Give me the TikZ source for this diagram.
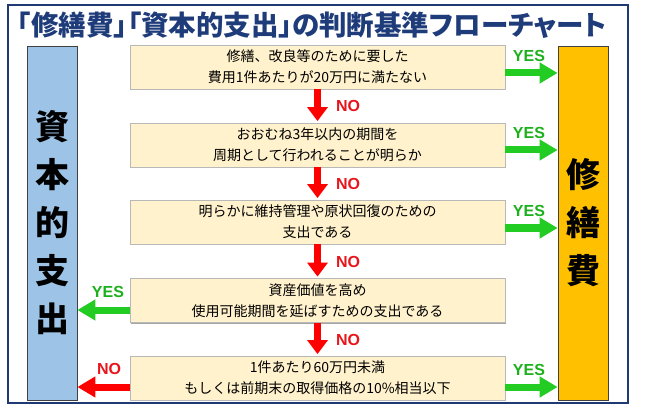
\documentclass[tikz,border=0pt]{standalone}
\usepackage{fontspec}
\setmainfont{Liberation Sans}
\newfontfamily\jp{Noto Sans CJK JP}
\newfontfamily\jpp[RawFeature=+palt]{Noto Sans CJK JP}
\usetikzlibrary{arrows.meta,shadows}
\definecolor{navy}{HTML}{1F3A72}
\definecolor{titlecol}{HTML}{1F3C7A}
\definecolor{boxfill}{HTML}{FFF2CC}
\definecolor{bluebar}{HTML}{9DC3E6}
\definecolor{orangebar}{HTML}{FFC000}
\definecolor{garrow}{HTML}{22CC22}
\definecolor{gtext}{HTML}{1DB01D}
\definecolor{rarrow}{HTML}{FF0000}
\definecolor{rtext}{HTML}{E8161C}
\begin{document}
\begin{tikzpicture}[x=1pt,y=-1pt,
  qbox/.style={draw=black!28, line width=0.8pt, fill=boxfill,
    minimum width=375pt, minimum height=44pt, inner sep=0pt, align=center,
    font=\jp\fontsize{14}{21}\selectfont,
    drop shadow={shadow xshift=1.2pt, shadow yshift=-1.2pt, fill=black!35, opacity=1}},
  bar/.style={draw=black!75, line width=0.8pt, minimum width=50pt,
    minimum height=354pt, inner sep=0pt, align=center,
    font=\jp\bfseries\fontsize{34}{48}\selectfont},
  yesarrow/.style={draw=garrow, line width=7pt, -{Triangle[length=18pt,width=20pt]}},
  redarrow/.style={draw=rarrow, line width=7pt, -{Triangle[length=18pt,width=20pt]}},
  downarrow/.style={draw=rarrow, line width=7pt, -{Triangle[length=14pt,width=20pt]}, shorten >=1.5pt},
  yeslbl/.style={text=gtext, font=\bfseries\fontsize{16}{16}\selectfont, inner sep=0pt},
  nolbl/.style={text=rtext, font=\bfseries\fontsize{16}{16}\selectfont, inner sep=0pt},
  titlestyle/.style={text=titlecol, font=\jpp\bfseries\fontsize{27.5}{30}\selectfont, inner sep=0pt}
]
\useasboundingbox (0,0) rectangle (645,406);
\fill[white] (0,0) rectangle (645,406);
% frame
\draw[navy, line width=2.2pt] (8,5) rectangle (628,403);
% title
\node[titlestyle] (title) at (312,25) {「修繕費」「資本的支出」の判断基準フローチャート};
% side bars
\node[bar, fill=bluebar] (capex) at (52,223) {資\\本\\的\\支\\出};
\node[bar, fill=orangebar] (repair) at (583,223) {修\\繕\\費};
% question boxes
\node[qbox] (b1) at (317.5,67) {修繕、改良等のために要した\\費用1件あたりが20万円に満たない};
\node[qbox] (b2) at (317.5,145) {おおむね3年以内の期間を\\周期として行われることが明らか};
\node[qbox] (b3) at (317.5,222) {明らかに維持管理や原状回復のための\\支出である};
\node[qbox] (b4) at (317.5,300.5) {資産価値を高め\\使用可能期間を延ばすための支出である};
\node[qbox] (b5) at (317.5,378) {1件あたり60万円未満\\もしくは前期末の取得価格の10\%相当以下};
% arrow heights
\coordinate (y1) at (0,73);
\coordinate (y2) at (0,150);
\coordinate (y3) at (0,228);
\coordinate (y4) at (0,310);
\coordinate (y5) at (0,387);
% YES to repair
\draw[yesarrow] (b1.east |- y1) -- (repair.west |- y1);
\draw[yesarrow] (b2.east |- y2) -- (repair.west |- y2);
\draw[yesarrow] (b3.east |- y3) -- (repair.west |- y3);
\draw[yesarrow] (b5.east |- y5) -- (repair.west |- y5);
% YES / NO to capex
\draw[yesarrow] (b4.west |- y4) -- (capex.east |- y4);
\draw[redarrow] (b5.west |- y5) -- (capex.east |- y5);
% NO down arrows
\draw[downarrow] (b1.south) -- (b2.north);
\draw[downarrow] (b2.south) -- (b3.north);
\draw[downarrow] (b3.south) -- (b4.north);
\draw[downarrow] (b4.south) -- (b5.north);
% labels
\node[yeslbl] (yes1) at (529,56) {YES};
\node[yeslbl] (yes2) at (529,133) {YES};
\node[yeslbl] (yes3) at (529,211) {YES};
\node[yeslbl] (yes5) at (529,370) {YES};
\node[yeslbl] (yes4) at (108,292) {YES};
\node[nolbl] (no5) at (109,369) {NO};
\node[nolbl] (no1) at (348,106) {NO};
\node[nolbl] (no2) at (348,184) {NO};
\node[nolbl] (no3) at (348,261.5) {NO};
\node[nolbl] (no4) at (348,339.5) {NO};
\end{tikzpicture}
\end{document}
